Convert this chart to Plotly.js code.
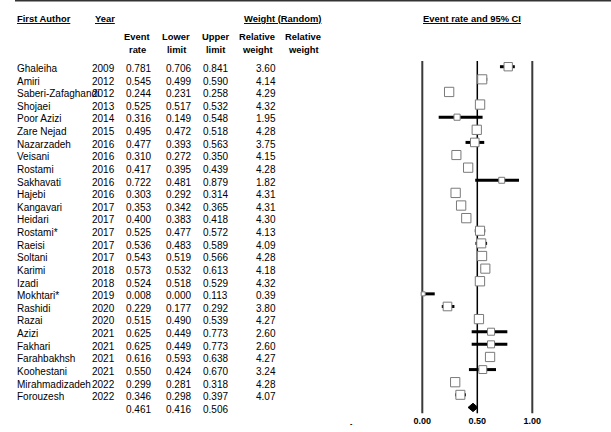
<!DOCTYPE html>
<html>
<head>
<meta charset="utf-8">
<script src="https://cdn.plot.ly/plotly-3.0.1.min.js"></script>
<style>html,body{margin:0;padding:0;background:#fff;}#chart{width:611px;height:432px;}</style>
</head>
<body>
<div id="chart"></div>
<script>
// ---- data ----
const authors = ["Ghaleiha","Amiri","Saberi-Zafaghandi","Shojaei","Poor Azizi","Zare Nejad","Nazarzadeh","Veisani","Rostami","Sakhavati","Hajebi","Kangavari","Heidari","Rostami*","Raeisi","Soltani","Karimi","Izadi","Mokhtari*","Rashidi","Razai","Azizi","Fakhari","Farahbakhsh","Koohestani","Mirahmadizadeh","Forouzesh"];
const years = [2009,2012,2012,2013,2014,2015,2016,2016,2016,2016,2016,2017,2017,2017,2017,2017,2018,2018,2019,2020,2020,2021,2021,2021,2021,2022,2022];
const eventRate = [0.781,0.545,0.244,0.525,0.316,0.495,0.477,0.310,0.417,0.722,0.303,0.353,0.400,0.525,0.536,0.543,0.573,0.524,0.008,0.229,0.515,0.625,0.625,0.616,0.550,0.299,0.346];
const lowerLimit = [0.706,0.499,0.231,0.517,0.149,0.472,0.393,0.272,0.395,0.481,0.292,0.342,0.383,0.477,0.483,0.519,0.532,0.518,0.000,0.177,0.490,0.449,0.449,0.593,0.424,0.281,0.298];
const upperLimit = [0.841,0.590,0.258,0.532,0.548,0.518,0.563,0.350,0.439,0.879,0.314,0.365,0.418,0.572,0.589,0.566,0.613,0.529,0.113,0.292,0.539,0.773,0.773,0.638,0.670,0.318,0.397];
const relWeight = [3.60,4.14,4.29,4.32,1.95,4.28,3.75,4.15,4.28,1.82,4.31,4.31,4.30,4.13,4.09,4.28,4.18,4.32,0.39,3.80,4.27,2.60,2.60,4.27,3.24,4.28,4.07];
const summaryEst = [0.461];
const summaryLower = [0.416];
const summaryUpper = [0.506];
const axisTicks = [0, 0.5, 1];
const axisTickLabels = ["0.00", "0.50", "1.00"];

// ---- layout geometry ----
const W = 611, H = 432, MB = 18;
const plotH = H - MB;
const x0px = 422.3, pxPerUnit = 110;
const xr = [-x0px / pxPerUnit, (W - x0px) / pxPerUnit];
const row0px = 66.7, rowPx = 12.62;
const yr = [(plotH - row0px) / rowPx, -row0px / rowPx];
const pyToRow = p => (p - row0px) / rowPx;
const n = authors.length;
const rows = authors.map((_, i) => i);
const sumRow = n;

const FONT = "Liberation Sans, Arial, sans-serif";

const traces = [
  { type: 'scatter', mode: 'markers', x: eventRate, y: rows,
    error_x: { type: 'data', symmetric: false,
      array: upperLimit.map((u, i) => u - eventRate[i]),
      arrayminus: lowerLimit.map((l, i) => eventRate[i] - l),
      color: '#000', thickness: 3, width: 0 },
    marker: { symbol: 'square', opacity: 1, size: relWeight.map(w => 3.5 + 1.35 * w), color: '#fff', line: { color: '#7a7a7a', width: 1 } },
    showlegend: false, hoverinfo: 'skip' },
  { type: 'scatter', mode: 'lines', fill: 'toself', fillcolor: '#000',
    x: [summaryLower[0], summaryEst[0], summaryUpper[0], summaryEst[0], summaryLower[0]],
    y: [sumRow, sumRow - 0.33, sumRow, sumRow + 0.33, sumRow],
    line: { color: '#000', width: 1 }, showlegend: false, hoverinfo: 'skip' }
];

const ann = [];
const txt = (text, xpx, row, anchor, opts = {}) => ann.push(Object.assign({
  text: text, xref: 'paper', yref: 'y', x: xpx / W, y: row, xanchor: anchor, yanchor: 'middle',
  showarrow: false, borderpad: 0, font: { family: FONT, size: 10, color: '#000' }, yshift: -1.8
}, opts));

for (let i = 0; i < n; i++) {
  txt(authors[i], 15.7, i, 'left');
  txt(String(years[i]), 115.5, i, 'right');
  txt(eventRate[i].toFixed(3), 152, i, 'right');
  txt(lowerLimit[i].toFixed(3), 192, i, 'right');
  txt(upperLimit[i].toFixed(3), 229.5, i, 'right');
  txt(relWeight[i].toFixed(2), 277, i, 'right');
}
txt(summaryEst[0].toFixed(3), 152, sumRow, 'right');
txt(summaryLower[0].toFixed(3), 192, sumRow, 'right');
txt(summaryUpper[0].toFixed(3), 229.5, sumRow, 'right');

const hf = { family: FONT, size: 9.4, color: '#000' };
const hdr = (text, xpx, ypx, anchor) => ann.push({
  text: text, xref: 'paper', yref: 'y', x: xpx / W, y: pyToRow(ypx), xanchor: anchor, yanchor: 'middle',
  showarrow: false, borderpad: 0, font: hf
});
hdr('<b><u>First Author</u></b>', 15.7, 18, 'left');
hdr('<b><u>Year</u></b>', 93.5, 18, 'left');
hdr('<b><u>Weight (Random)</u></b>', 322, 18, 'right');
hdr('<b><u>Event rate and 95% CI</u></b>', 471.7, 18, 'center');
const sub = [['Event', 'rate', 137], ['Lower', 'limit', 176], ['Upper', 'limit', 215], ['Relative', 'weight', 257], ['Relative', 'weight', 303]];
sub.forEach(s => { hdr('<b>' + s[0] + '</b>', s[2], 36, 'center'); hdr('<b>' + s[1] + '</b>', s[2], 49, 'center'); });
ann.push({ text: '<b>-</b>', xref: 'paper', yref: 'paper', x: 351.7 / W, y: 0, yshift: -9, xanchor: 'center', yanchor: 'middle', showarrow: false, font: { family: FONT, size: 7, color: '#000' } });

const vTop = pyToRow(61), vBot = pyToRow(413.3);
const shapes = [
  { type: 'line', xref: 'paper', yref: 'paper', x0: 15 / W, x1: 1, y0: 1 - 0.8 / plotH, y1: 1 - 0.8 / plotH, line: { color: '#333', width: 1.6 } },
  { type: 'line', xref: 'x', yref: 'y', x0: axisTicks[0], x1: axisTicks[0], y0: vTop, y1: vBot, line: { color: '#3a3a3a', width: 2 }, layer: 'below' },
  { type: 'line', xref: 'x', yref: 'y', x0: axisTicks[2], x1: axisTicks[2], y0: vTop, y1: vBot, line: { color: '#3a3a3a', width: 2 }, layer: 'below' },
  { type: 'line', xref: 'x', yref: 'y', x0: axisTicks[1], x1: axisTicks[1], y0: vTop, y1: vBot, line: { color: '#000', width: 1.5 }, layer: 'below' }
];

const layout = {
  width: W, height: H,
  margin: { l: 0, r: 0, t: 0, b: MB, pad: 0 },
  paper_bgcolor: '#fff', plot_bgcolor: '#fff',
  showlegend: false,
  xaxis: { range: xr, showgrid: false, zeroline: false, showline: false, ticks: '',
    tickvals: axisTicks, ticktext: axisTickLabels.map(t => '<b>' + t + '</b>'),
    tickfont: { family: FONT, size: 9, color: '#000' }, fixedrange: true },
  yaxis: { range: yr, showgrid: false, zeroline: false, showline: false, showticklabels: false, ticks: '', fixedrange: true },
  annotations: ann,
  shapes: shapes
};

Plotly.newPlot('chart', traces, layout, { staticPlot: true, displayModeBar: false });
</script>
</body>
</html>
